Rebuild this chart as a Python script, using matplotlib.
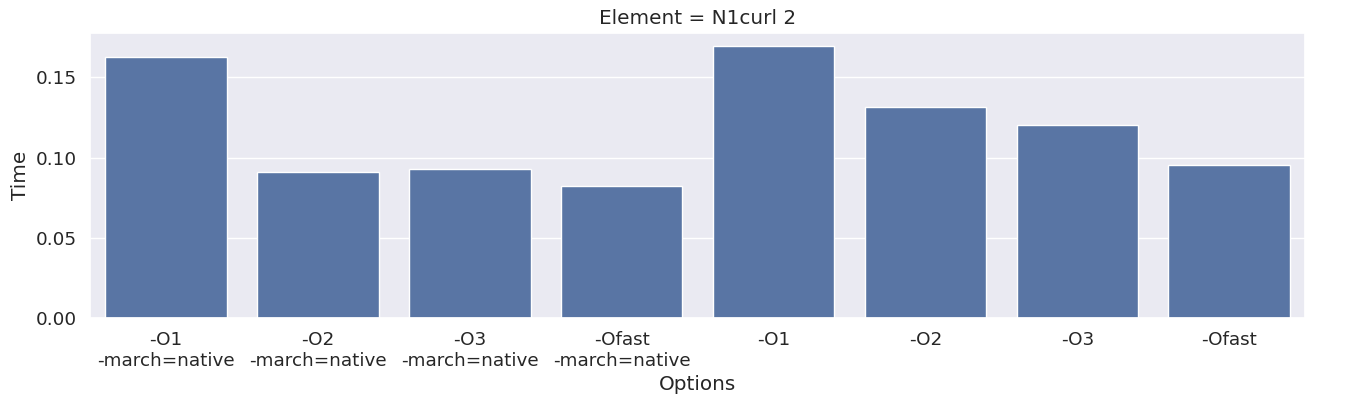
import matplotlib
matplotlib.use("Agg")
import matplotlib.pyplot as plt
from matplotlib.ticker import MultipleLocator
import seaborn as sns
import pandas as pd

# --- Data ---
options = [
    "-O1\n-march=native",
    "-O2\n-march=native",
    "-O3\n-march=native",
    "-Ofast\n-march=native",
    "-O1",
    "-O2",
    "-O3",
    "-Ofast",
]
times = [0.1628, 0.0912, 0.0930, 0.0825, 0.1694, 0.1313, 0.1205, 0.0952]

sns.set_theme(font_scale=1.2)

df = pd.DataFrame({"Options": options, "Time": times})

fig, ax = plt.subplots(figsize=(13.68, 4.05), dpi=100)
sns.barplot(data=df, x="Options", y="Time", ax=ax, color="#4c72b0")

ax.set_title("Element = N1curl 2")
ax.set_xlabel("Options")
ax.set_ylabel("Time")
ax.yaxis.set_major_locator(MultipleLocator(0.05))

plt.subplots_adjust(left=0.066, right=0.954, top=0.919, bottom=0.215)
plt.savefig("out.png", dpi=100)
